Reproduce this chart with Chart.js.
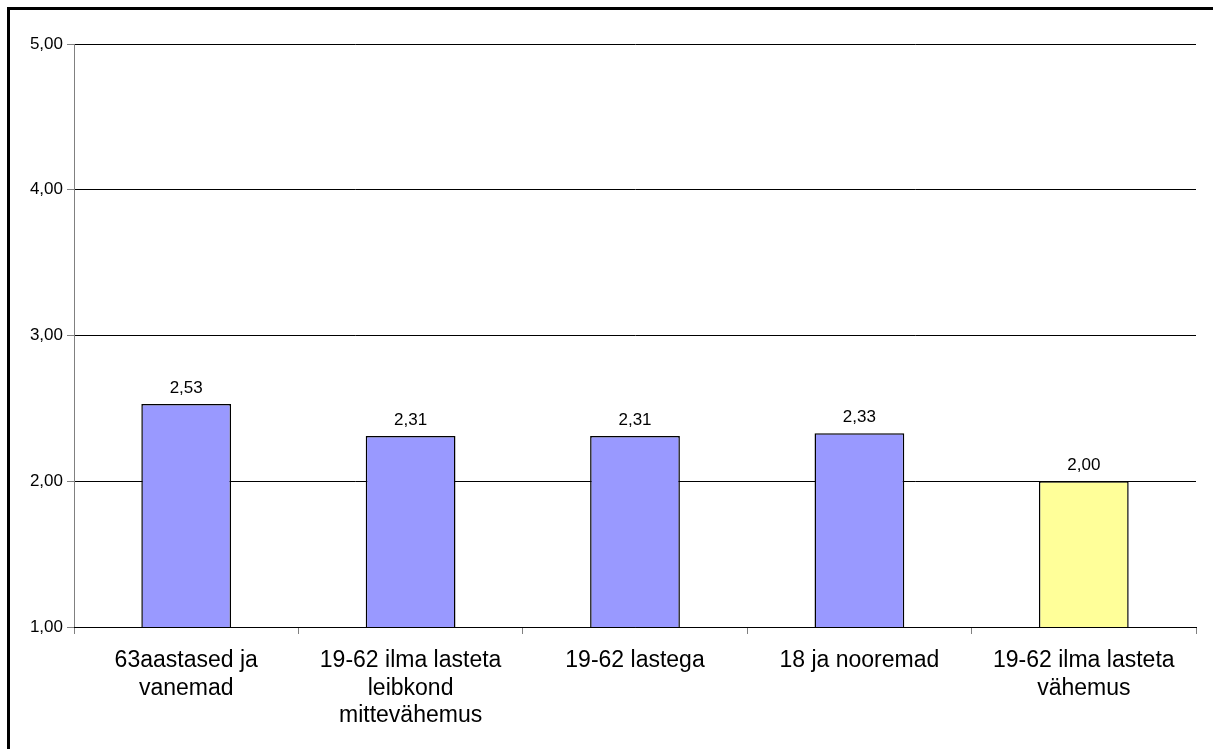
<!DOCTYPE html>
<html>
<head>
<meta charset="utf-8">
<script src="https://cdn.jsdelivr.net/npm/chart.js@4/dist/chart.umd.min.js"></script>
<style>
  html, body { margin: 0; padding: 0; background: #fff; }
  #wrap { width: 1213px; height: 749px; position: relative; }
</style>
</head>
<body>
<div id="wrap"><canvas id="c" width="1213" height="749"></canvas></div>
<script>
const categories = [
  ["63aastased ja", "vanemad"],
  ["19-62 ilma lasteta", "leibkond", "mittevähemus"],
  ["19-62 lastega"],
  ["18 ja nooremad"],
  ["19-62 ilma lasteta", "vähemus"]
];
const values = [2.53, 2.31, 2.31, 2.33, 2.00];
const barColors = ["#9999FF", "#9999FF", "#9999FF", "#9999FF", "#FFFF99"];
const yTicks = [1, 2, 3, 4, 5];

const fmt = v => v.toFixed(2).replace('.', ',');
const FONT = '"Liberation Sans", Arial, sans-serif';

const frame = {
  id: 'frame',
  beforeDraw(chart) {
    const ctx = chart.ctx;
    ctx.save();
    ctx.fillStyle = '#fff';
    ctx.fillRect(0, 0, chart.width, chart.height);
    ctx.fillStyle = '#000';
    ctx.fillRect(7, 7, chart.width - 7, 3);
    ctx.fillRect(7, 7, 3, chart.height - 7);
    ctx.restore();
  }
};

const dataLabels = {
  id: 'dataLabels',
  afterDatasetsDraw(chart) {
    const ctx = chart.ctx;
    const meta = chart.getDatasetMeta(0);
    ctx.save();
    ctx.font = '17px ' + FONT;
    ctx.fillStyle = '#000';
    ctx.textAlign = 'center';
    ctx.textBaseline = 'alphabetic';
    meta.data.forEach((bar, i) => {
      ctx.fillText(fmt(values[i]), bar.x, bar.y - 11);
    });
    ctx.restore();
  }
};

new Chart(document.getElementById('c'), {
  type: 'bar',
  data: {
    labels: categories,
    datasets: [{
      data: values,
      backgroundColor: barColors,
      borderColor: '#000',
      borderWidth: 1.5,
      borderSkipped: false,
      barPercentage: 0.4,
      categoryPercentage: 1.0
    }]
  },
  options: {
    responsive: false,
    animation: false,
    layout: { padding: { top: 44, right: 17, left: 0, bottom: 0 } },
    plugins: { legend: { display: false }, tooltip: { enabled: false } },
    scales: {
      y: {
        min: 1, max: 5,
        afterFit(scale) { scale.width = 74; },
        afterBuildTicks(scale) { scale.ticks = yTicks.map(v => ({ value: v })); },
        ticks: {
          callback: v => fmt(v),
          font: { family: FONT, size: 17 },
          color: '#000',
          padding: 4
        },
        grid: { color: '#000', lineWidth: 1, tickLength: 7, tickColor: '#808080' },
        border: { color: '#808080', width: 1 }
      },
      x: {
        afterFit(scale) { scale.height = 122; },
        ticks: {
          font: { family: FONT, size: 23, lineHeight: 1.2 },
          color: '#000',
          padding: 13,
          maxRotation: 0,
          autoSkip: false
        },
        grid: { drawOnChartArea: false, drawTicks: true, tickLength: 7, color: '#808080', offset: true },
        border: { color: '#000', width: 1 }
      }
    }
  },
  plugins: [frame, dataLabels]
});
</script>
</body>
</html>
